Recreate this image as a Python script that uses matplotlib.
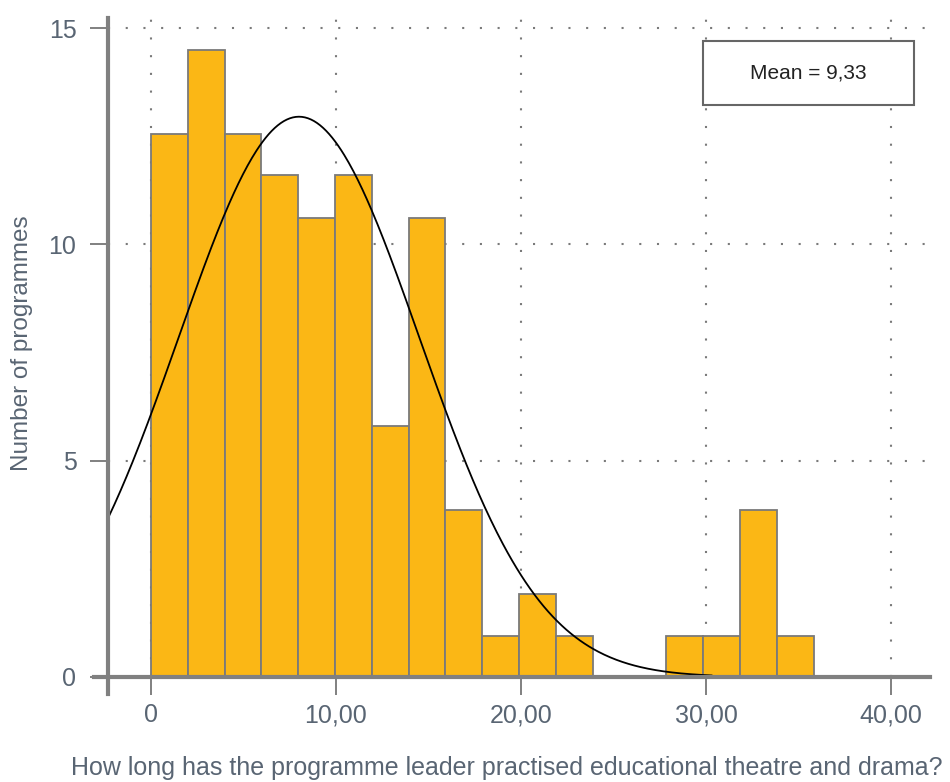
import numpy as np
import matplotlib.pyplot as plt
from matplotlib.patches import Rectangle

# histogram (bins of ~2 years starting at 0)
bin_left = [0, 2, 4, 6, 8, 10, 12, 14, 16, 18, 20, 22, 24, 26, 28, 30, 32, 34]
counts = [12.55, 14.5, 12.55, 11.6, 10.6, 11.6, 5.8, 10.6, 3.85, 0.95,
          1.92, 0.95, 0, 0, 0.95, 0.95, 3.85, 0.95]
bin_width = 1.99

# fitted normal curve as drawn
curve_mu = 8.0
curve_sd = 6.5
curve_peak = 12.95
curve_from, curve_to = -2.3, 30.3

xticks = [0, 10, 20, 30, 40]
xticklabels = ['0', '10,00', '20,00', '30,00', '40,00']
yticks = [0, 5, 10, 15]
mean_text = 'Mean = 9,33'

plt.rcParams['font.family'] = ['Liberation Sans', 'DejaVu Sans']
txt_col = '#596573'
axis_col = '#808080'

W, H = 950, 782
fig = plt.figure(figsize=(W / 100, H / 100), dpi=100)
ax = fig.add_axes([94 / W, 1 - 694 / H, (930 - 94) / W, (694 - 12) / H])
ax.set_xlim(-3.08, 42.11)
ax.set_ylim(-0.393, 15.37)

# dotted grid
ax.vlines(xticks, 0, 15.37, colors='#7a7a7a', linestyles=(0, (1, 7.5)), lw=1.5, zorder=1)
ax.hlines(yticks[1:], -2.3, 42.11, colors='#7a7a7a', linestyles=(0, (1, 7.5)), lw=1.5, zorder=1)

bin_left = np.array(bin_left) * bin_width / 2
ax.bar(bin_left, counts, width=bin_width, align='edge', color='#FBB715',
       edgecolor='#7a7a7a', linewidth=1.3, zorder=2)

cx = np.linspace(curve_from, curve_to, 400)
cy = curve_peak * np.exp(-(cx - curve_mu) ** 2 / (2 * curve_sd ** 2))
ax.plot(cx, cy, color='black', lw=1.3, zorder=3)

for s in ['top', 'right']:
    ax.spines[s].set_visible(False)
ax.spines['left'].set_position(('data', -2.3))
ax.spines['left'].set_bounds(-0.393, 15.23)
ax.spines['bottom'].set_position(('data', 0))
for s in ['left', 'bottom']:
    ax.spines[s].set_color(axis_col)
    ax.spines[s].set_linewidth(3)
    ax.spines[s].set_zorder(4)

ax.set_xticks(xticks)
ax.set_xticklabels(xticklabels)
ax.set_yticks(yticks)
ax.tick_params(axis='both', direction='out', length=13, width=1.4, color=axis_col,
               labelsize=18, labelcolor=txt_col)
ax.tick_params(axis='y', pad=10)
ax.tick_params(axis='x', pad=6)

fig.text(507 / W, 1 - 768 / H, 'How long has the programme leader practised educational theatre and drama?',
         ha='center', va='center', fontsize=18, color=txt_col)
fig.text(22 / W, 1 - 343 / H, 'Number of programmes', rotation=90,
         ha='center', va='center', fontsize=17.5, color=txt_col)

# mean box
fig.patches.append(Rectangle((703 / W, 1 - 105 / H), 211 / W, 64 / H, transform=fig.transFigure,
                             facecolor='white', edgecolor='#666666', lw=1.5, zorder=5))
fig.text(808 / W, 1 - 73 / H, mean_text, ha='center', va='center', fontsize=15,
         color='#222222', zorder=6)

fig.savefig('out.png', dpi=100)
